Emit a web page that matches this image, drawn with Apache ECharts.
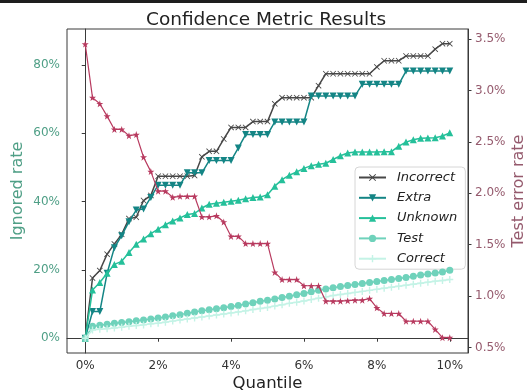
<!DOCTYPE html>
<html>
<head>
<meta charset="utf-8">
<script src="https://cdn.jsdelivr.net/npm/echarts@6/dist/echarts.min.js"></script>
<style>
  html, body { margin: 0; padding: 0; background: #ffffff; }
  #chart { width: 527px; height: 391px; }
</style>
</head>
<body>
<div id="chart"></div>
<script>
// Quantile (%) at which each rate was measured
const quantiles = [0, 0.2, 0.4, 0.6, 0.8, 1.0, 1.2, 1.4, 1.6, 1.8,
  2.0, 2.2, 2.4, 2.6, 2.8, 3.0, 3.2, 3.4, 3.6, 3.8,
  4.0, 4.2, 4.4, 4.6, 4.8, 5.0, 5.2, 5.4, 5.6, 5.8,
  6.0, 6.2, 6.4, 6.6, 6.8, 7.0, 7.2, 7.4, 7.6, 7.8,
  8.0, 8.2, 8.4, 8.6, 8.8, 9.0, 9.2, 9.4, 9.6, 9.8, 10.0];

// Ignored rate (%) per group
const incorrect = [0, 17.6, 19.8, 24.6, 27.6, 30.4, 35.0, 35.4, 40.3, 41.8,
  47.4, 47.4, 47.4, 47.4, 47.4, 47.6, 53.1, 54.7, 54.7, 58.3,
  61.7, 61.7, 61.7, 63.4, 63.4, 63.4, 68.6, 70.4, 70.4, 70.4,
  70.4, 70.4, 73.9, 77.4, 77.4, 77.4, 77.4, 77.4, 77.4, 77.4,
  79.4, 81.2, 81.2, 81.2, 82.6, 82.6, 82.6, 82.6, 84.6, 86.2, 86.2];

const extra = [0, 7.8, 7.8, 19.0, 26.5, 30.0, 34.1, 37.5, 37.8, 41.2,
  44.8, 44.8, 44.8, 44.8, 48.4, 48.4, 48.4, 52.0, 52.0, 52.0,
  52.0, 55.7, 59.6, 59.6, 59.6, 59.6, 63.3, 63.3, 63.3, 63.3,
  63.3, 70.9, 70.9, 70.9, 70.9, 70.9, 70.9, 70.9, 74.3, 74.3,
  74.3, 74.3, 74.3, 74.3, 78.2, 78.2, 78.2, 78.2, 78.2, 78.2, 78.2];

const unknown = [0, 14.1, 16.3, 19.0, 21.6, 22.5, 25.1, 27.5, 29.0, 30.6,
  31.9, 33.2, 34.3, 35.2, 36.2, 36.5, 38.1, 39.2, 39.5, 39.8,
  40.1, 40.4, 40.8, 41.2, 41.3, 42.0, 44.5, 46.4, 47.7, 48.7,
  49.7, 50.5, 50.9, 51.2, 52.3, 53.4, 54.2, 54.5, 54.5, 54.5,
  54.5, 54.6, 54.6, 56.2, 57.4, 58.1, 58.5, 58.6, 58.7, 59.2, 60.1];

const test = [0, 3.5, 3.8, 4.1, 4.4, 4.6, 4.8, 5.1, 5.3, 5.6,
  5.9, 6.2, 6.6, 6.9, 7.3, 7.7, 8.0, 8.3, 8.6, 8.9,
  9.3, 9.6, 10.0, 10.4, 10.8, 11.1, 11.5, 11.9, 12.3, 12.7,
  13.1, 13.6, 14.0, 14.4, 14.8, 15.1, 15.4, 15.7, 16.0, 16.3,
  16.6, 16.9, 17.2, 17.5, 17.8, 18.1, 18.5, 18.8, 19.1, 19.4, 19.9];

const correct = [0, 2.4, 2.6, 2.8, 3.0, 3.2, 3.5, 3.7, 3.9, 4.2,
  4.4, 4.7, 5.0, 5.3, 5.6, 5.9, 6.2, 6.5, 6.8, 7.1,
  7.4, 7.7, 8.0, 8.4, 8.7, 9.0, 9.4, 9.8, 10.2, 10.5,
  10.9, 11.3, 11.7, 12.1, 12.5, 12.8, 13.1, 13.4, 13.7, 14.0,
  14.3, 14.6, 14.9, 15.2, 15.5, 15.8, 16.1, 16.4, 16.7, 16.9, 17.2];

// Test error rate (%) on the right-hand axis
const testError = [3.45, 2.93, 2.87, 2.75, 2.62, 2.62, 2.56, 2.57, 2.35, 2.21,
  2.02, 2.02, 1.96, 1.97, 1.97, 1.97, 1.77, 1.77, 1.78, 1.72,
  1.58, 1.58, 1.51, 1.51, 1.51, 1.51, 1.23, 1.16, 1.16, 1.16,
  1.10, 1.10, 1.10, 0.95, 0.95, 0.95, 0.955, 0.96, 0.96, 0.975,
  0.885, 0.83, 0.83, 0.83, 0.755, 0.755, 0.755, 0.755, 0.675, 0.595, 0.595];

// Tick positions
const xTicks = [0, 2, 4, 6, 8, 10];
const leftTicks = [0, 20, 40, 60, 80];
const rightTicks = [0.5, 1.0, 1.5, 2.0, 2.5, 3.0, 3.5];

const FONT = '"DejaVu Sans", sans-serif';
const pairs = (ys) => quantiles.map((q, i) => [q, ys[i]]);

// Marker shapes
const CROSS = 'path://M0,1L1,0L5,4L9,0L10,1L6,5L10,9L9,10L5,6L1,10L0,9L4,5Z';
const STAR = 'path://M5,0L6.2,3.6L10,3.6L7,5.9L8.1,9.5L5,7.3L1.9,9.5L3,5.9L0,3.6L3.8,3.6Z';
const PLUS = 'path://M4,0H6V4H10V6H6V10H4V6H0V4H4Z';

function lineSeries(name, ys, color, symbol, size, extraOpts) {
  return Object.assign({
    name: name,
    type: 'line',
    data: pairs(ys),
    symbol: symbol,
    symbolSize: size,
    showSymbol: true,
    lineStyle: { color: color, width: 1.5 },
    itemStyle: { color: color },
    emphasis: { disabled: true }
  }, extraOpts || {});
}

const chart = echarts.init(document.getElementById('chart'), null, { renderer: 'canvas' });

chart.setOption({
  animation: false,
  backgroundColor: '#ffffff',
  title: {
    text: 'Confidence Metric Results',
    left: 141, top: 6,
    textStyle: { fontFamily: FONT, fontSize: 18.5, fontWeight: 'normal', color: '#222' }
  },
  graphic: [{
    type: 'rect', left: 0, top: 0,
    shape: { width: 527, height: 3 },
    style: { fill: '#1e1e1e' }, silent: true
  }],
  grid: {
    left: 67, right: 59, top: 29, bottom: 38,
    outerBoundsMode: 'none',
    containLabel: false,
    show: true, borderColor: '#3a3a3a', borderWidth: 1, backgroundColor: 'transparent'
  },
  legend: {
    orient: 'vertical',
    left: 355, top: 167,
    data: ['Incorrect', 'Extra', 'Unknown', 'Test', 'Correct'],
    itemWidth: 27, itemHeight: 9, itemGap: 7.3,
    padding: [4, 8, 4, 3],
    backgroundColor: 'rgba(255,255,255,0.85)',
    borderColor: '#d6d6d6', borderWidth: 1, borderRadius: 4,
    textStyle: { fontFamily: FONT, fontSize: 13, fontStyle: 'italic', color: '#222', padding: [0, 0, 0, 6] }
  },
  xAxis: {
    type: 'value', min: -0.5, max: 10.5,
    name: 'Quantile', nameLocation: 'middle', nameGap: 22, nameMoveOverlap: false,
    nameTextStyle: { fontFamily: FONT, fontSize: 16.5, color: '#222' },
    axisLine: { show: true, lineStyle: { color: '#3a3a3a' } },
    axisTick: { show: true, length: 3.5, inside: false, customValues: xTicks, lineStyle: { color: '#3a3a3a' } },
    axisLabel: { customValues: xTicks, margin: 7, formatter: v => v + '%',
      fontFamily: FONT, fontSize: 12, color: '#333' },
    splitLine: { show: false }
  },
  yAxis: [{
    type: 'value', min: -4.33, max: 90.5, position: 'left',
    name: 'Ignored rate', nameLocation: 'middle', nameGap: 41, nameRotate: 90, nameMoveOverlap: false,
    nameTextStyle: { fontFamily: FONT, fontSize: 16, color: '#4f9f86' },
    axisLine: { show: true, lineStyle: { color: '#3a3a3a' } },
    axisTick: { show: true, length: 3.5, customValues: leftTicks, lineStyle: { color: '#3a3a3a' } },
    axisLabel: { customValues: leftTicks, margin: 7, formatter: v => v + '%',
      fontFamily: FONT, fontSize: 12, color: '#4f9f86' },
    splitLine: { show: false }
  }, {
    type: 'value', min: 0.446, max: 3.597, position: 'right',
    name: 'Test error rate', nameLocation: 'middle', nameGap: 43, nameRotate: 90, nameMoveOverlap: false,
    nameTextStyle: { fontFamily: FONT, fontSize: 16, color: '#955a6d' },
    axisLine: { show: true, lineStyle: { color: '#3a3a3a' } },
    axisTick: { show: true, length: 3.5, customValues: rightTicks, lineStyle: { color: '#3a3a3a' } },
    axisLabel: { customValues: rightTicks, margin: 7, formatter: v => v.toFixed(1) + '%',
      fontFamily: FONT, fontSize: 12, color: '#955a6d' },
    splitLine: { show: false }
  }],
  series: [
    lineSeries('Incorrect', incorrect, '#474747', CROSS, 6, { z: 2 }),
    lineSeries('Extra', extra, '#148585', 'triangle', 7, { symbolRotate: 180, z: 3 }),
    lineSeries('Unknown', unknown, '#25c09a', 'triangle', 7, { z: 4 }),
    lineSeries('Test', test, '#6fd2bb', 'circle', 7, { z: 5 }),
    lineSeries('Correct', correct, '#c4f3e6', PLUS, 7, { z: 6 }),
    lineSeries('Test error', testError, '#b83a5f', STAR, 7, { yAxisIndex: 1, z: 7, lineStyle: { color: '#b83a5f', width: 1.2 } })
  ]
});
</script>
</body>
</html>
